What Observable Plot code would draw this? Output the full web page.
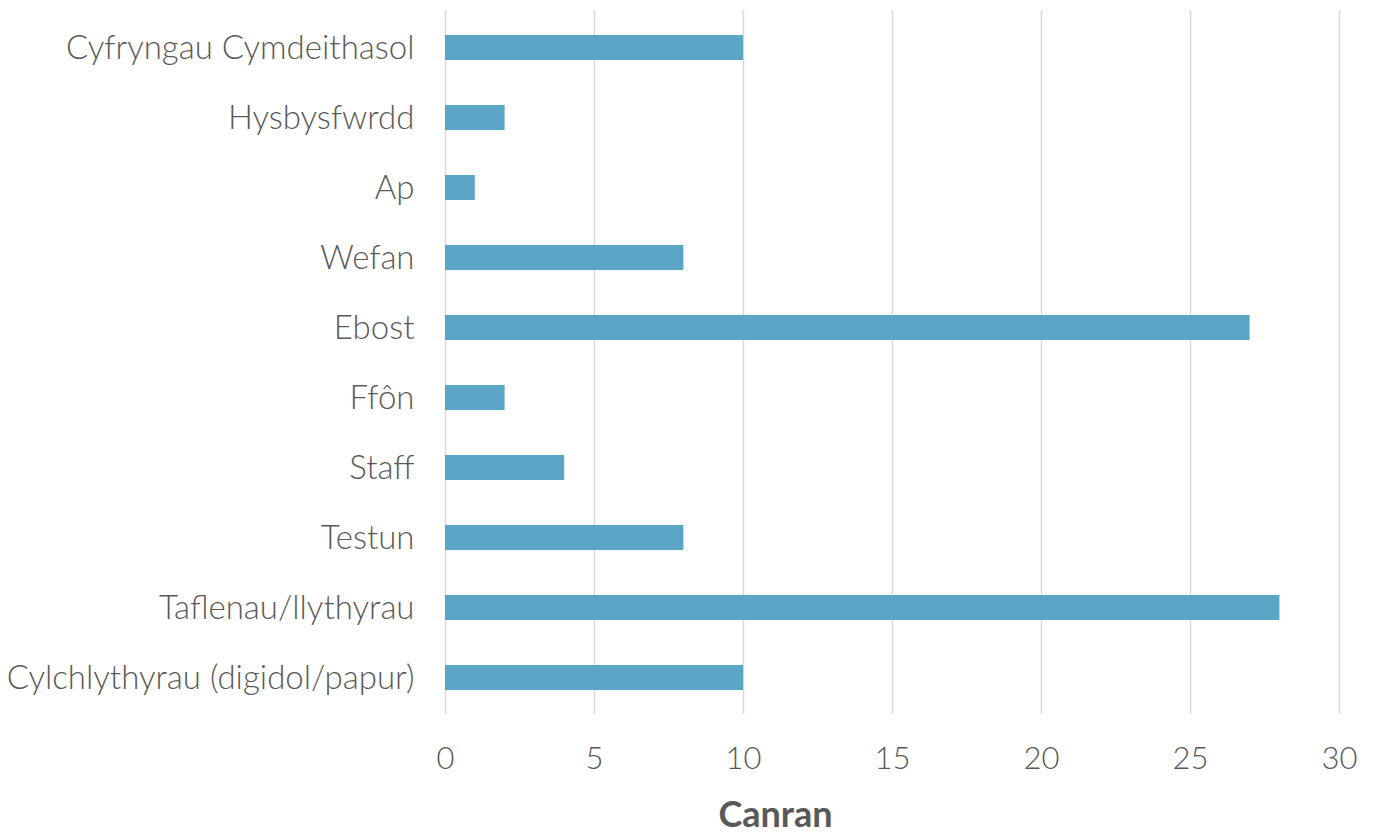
<!DOCTYPE html>
<html>
<head>
<meta charset="utf-8">
<script src="https://cdn.jsdelivr.net/npm/d3@7"></script>
<script src="https://cdn.jsdelivr.net/npm/@observablehq/plot@0.6"></script>
<style>
  html, body { margin: 0; padding: 0; background: #fff; }
  #chart svg { display: block; }
</style>
</head>
<body>
<div id="chart"></div>
<script>
const categories = [
  "Cyfryngau Cymdeithasol",
  "Hysbysfwrdd",
  "Ap",
  "Wefan",
  "Ebost",
  "Ffôn",
  "Staff",
  "Testun",
  "Taflenau/llythyrau",
  "Cylchlythyrau (digidol/papur)"
];
const values = [10, 2, 1, 8, 27, 2, 4, 8, 28, 10];
const xTicks = [0, 5, 10, 15, 20, 25, 30];
const xLabel = "Canran";

const data = categories.map((c, i) => ({category: c, value: values[i]}));

const chart = Plot.plot({
  width: 1373,
  height: 837,
  marginLeft: 445,
  marginRight: 34,
  marginTop: 10,
  marginBottom: 123,
  style: {fontFamily: "Lato, sans-serif", fontWeight: 300, color: "#595959", background: "#fff"},
  x: {domain: [0, 30]},
  y: {domain: categories, paddingInner: 0.645, paddingOuter: 0.3225},
  marks: [
    Plot.gridX(xTicks, {stroke: "#d9d9d9", strokeOpacity: 1, strokeWidth: 1.5}),
    Plot.barX(data, {x: "value", y: "category", fill: "#5ba6c6"}),
    Plot.axisY({tickSize: 0, tickPadding: 31, fontSize: 33, label: null}),
    Plot.axisX({ticks: xTicks, tickSize: 0, tickPadding: 32, fontSize: 31, label: null}),
    Plot.text([xLabel], {text: d => d, frameAnchor: "bottom", dx: -117, dy: 101, lineAnchor: "middle",
      fontSize: 36, fontWeight: 700, fill: "#595959"})
  ]
});
document.getElementById("chart").appendChild(chart);
</script>
</body>
</html>
